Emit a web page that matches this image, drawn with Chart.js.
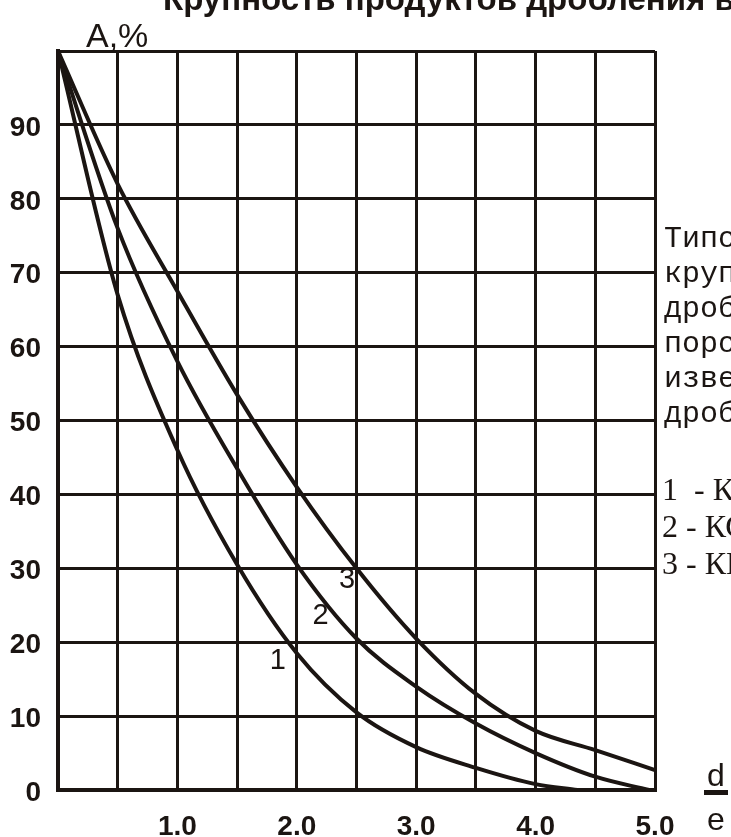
<!DOCTYPE html>
<html>
<head>
<meta charset="utf-8">
<script src="https://cdn.jsdelivr.net/npm/chart.js@4.4.1/dist/chart.umd.min.js"></script>
<style>
  html, body { margin: 0; padding: 0; background: #fff; }
  #chart { display: block; }
</style>
</head>
<body>
<canvas id="chart" width="731" height="837"></canvas>
<script>
// curve data (d/e on x, A % on y)
const curve1X = [0, 0.5, 1.0, 1.5, 2.0, 2.5, 3.0, 3.5, 4.0, 4.35];
const curve1Y = [100, 67, 46, 30.5, 18.5, 10.5, 5.8, 3, 0.8, 0];

const curve2X = [0, 0.5, 1.0, 1.5, 2.0, 2.5, 3.0, 3.5, 4.0, 4.5, 4.95];
const curve2Y = [100, 76, 58, 43.5, 30.5, 20.5, 14, 9, 5, 1.8, 0];

const curve3X = [0, 0.5, 1.0, 1.5, 2.0, 2.5, 3.0, 3.5, 4.0, 4.5, 5.0];
const curve3Y = [100, 82, 67.5, 53.5, 41, 30, 20.5, 13, 8, 5.4, 2.7];

// curve numbers and where they sit (data units)
const curveNames = ['1', '2', '3'];
const nameX = [1.84, 2.2, 2.42];
const nameY = [17.4, 23.6, 28.4];

// tick labels
const xTickLabels = ['1.0', '2.0', '3.0', '4.0', '5.0'];
const yTickLabels = ['0', '10', '20', '30', '40', '50', '60', '70', '80', '90'];

// side note, clipped by the page edge like in the source
const noteLines = ['Типовые', 'крупность', 'дробления', 'пород', 'известняка', 'дробилками:'];
const keyLines = ['1  - ККД', '2 - КСД', '3 - КМД'];

const ink = '#1b1512';

function toPoints(xs, ys) {
  return xs.map((x, i) => ({ x: x, y: ys[i] }));
}

function curve(xs, ys) {
  return {
    data: toPoints(xs, ys),
    borderColor: ink,
    borderWidth: 4,
    pointRadius: 0,
    fill: false,
    cubicInterpolationMode: 'monotone'
  };
}

// extra text: title, axis names, note, curve numbers
const textPlugin = {
  id: 'texts',
  afterDraw(chart) {
    const ctx = chart.ctx;
    const xs = chart.scales.x;
    const ys = chart.scales.y;
    ctx.save();
    ctx.fillStyle = ink;

    // title, top half is cut off
    ctx.font = 'bold 33px "Liberation Sans", Arial, sans-serif';
    ctx.textAlign = 'left';
    ctx.textBaseline = 'alphabetic';
    ctx.fillText('Крупность продуктов дробления в зависимости', 163, 10);

    ctx.font = '34px "Liberation Sans", Arial, sans-serif';
    ctx.fillText('A,%', 86, 47);

    // curve numbers
    ctx.font = '29px "Liberation Sans", Arial, sans-serif';
    ctx.textAlign = 'center';
    ctx.textBaseline = 'middle';
    curveNames.forEach((n, i) => {
      ctx.fillText(n, xs.getPixelForValue(nameX[i]), ys.getPixelForValue(nameY[i]));
    });

    // note on the right
    ctx.textAlign = 'left';
    ctx.textBaseline = 'alphabetic';
    ctx.font = '30px "Liberation Mono", "Courier New", monospace';
    noteLines.forEach((t, i) => ctx.fillText(t, 664, 247 + i * 35));
    ctx.font = '32px "Liberation Serif", "Times New Roman", serif';
    keyLines.forEach((t, i) => ctx.fillText(t, 662, 500 + i * 37));

    // d/e
    ctx.font = '32px "Liberation Sans", Arial, sans-serif';
    ctx.textAlign = 'center';
    ctx.fillText('d', 716, 786);
    ctx.fillRect(704, 790, 24, 5);
    ctx.fillText('e', 716, 830);

    ctx.restore();
  }
};

const chart = new Chart(document.getElementById('chart'), {
  type: 'line',
  data: {
    datasets: [
      curve(curve1X, curve1Y),
      curve(curve2X, curve2Y),
      curve(curve3X, curve3Y)
    ]
  },
  options: {
    responsive: false,
    animation: false,
    layout: { padding: { top: 51, right: 76, left: 0, bottom: 0 } },
    plugins: {
      legend: { display: false },
      tooltip: { enabled: false }
    },
    scales: {
      x: {
        type: 'linear',
        min: 0,
        max: 5,
        afterFit: s => { s.height = 47; },
        grid: { color: ink, lineWidth: 3, drawTicks: false },
        border: { color: ink, width: 4 },
        ticks: {
          stepSize: 0.5,
          autoSkip: false,
          maxRotation: 0,
          padding: 20,
          color: ink,
          font: { family: '"Liberation Sans", Arial, sans-serif', size: 28, weight: 'bold' },
          callback: v => {
            const i = xTickLabels.indexOf(Number(v).toFixed(1));
            return (v > 0 && Number.isInteger(v) && i >= 0) ? xTickLabels[i] : '';
          }
        }
      },
      y: {
        min: 0,
        max: 100,
        afterFit: s => { s.width = 58; },
        grid: { color: ink, lineWidth: 3, drawTicks: false },
        border: { color: ink, width: 4 },
        ticks: {
          stepSize: 10,
          padding: 17,
          labelOffset: 3,
          color: ink,
          font: { family: '"Liberation Sans", Arial, sans-serif', size: 28, weight: 'bold' },
          callback: v => yTickLabels[v / 10] || ''
        }
      }
    }
  },
  plugins: [textPlugin]
});
</script>
</body>
</html>
